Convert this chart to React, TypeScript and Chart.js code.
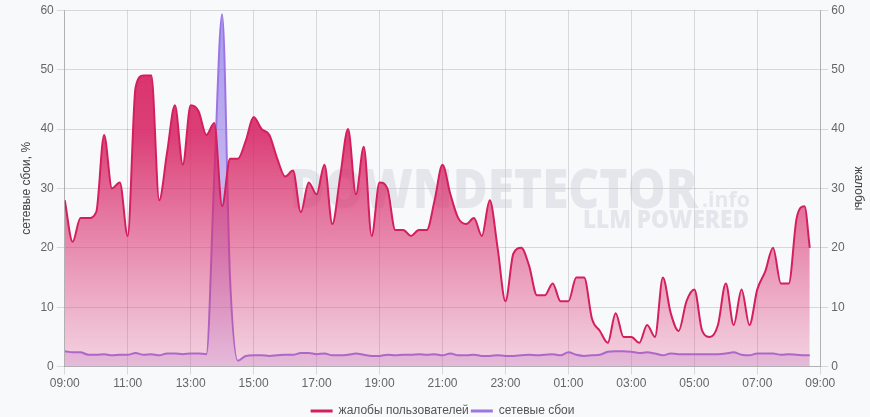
import React, { useEffect, useRef } from "react";
import { Chart, registerables } from "chart.js";

Chart.register(...registerables);

const times: string[] = [
  "09:00","09:15","09:30","09:45","10:00","10:15","10:30","10:45",
  "11:00","11:15","11:30","11:45","12:00","12:15","12:30","12:45",
  "13:00","13:15","13:30","13:45","14:00","14:15","14:30","14:45",
  "15:00","15:15","15:30","15:45","16:00","16:15","16:30","16:45",
  "17:00","17:15","17:30","17:45","18:00","18:15","18:30","18:45",
  "19:00","19:15","19:30","19:45","20:00","20:15","20:30","20:45",
  "21:00","21:15","21:30","21:45","22:00","22:15","22:30","22:45",
  "23:00","23:15","23:30","23:45","00:00","00:15","00:30","00:45",
  "01:00","01:15","01:30","01:45","02:00","02:15","02:30","02:45",
  "03:00","03:15","03:30","03:45","04:00","04:15","04:30","04:45",
  "05:00","05:15","05:30","05:45","06:00","06:15","06:30","06:45",
  "07:00","07:15","07:30","07:45","08:00","08:15","08:30","08:40",
];

const complaints: number[] = [
  28, 21, 25, 25, 26, 39, 30, 31,
  22, 47, 49, 49, 28, 36, 44, 34,
  44, 43, 39, 41, 27, 35, 35, 38,
  42, 40, 39, 35, 32, 33, 26, 31,
  29, 34, 24, 32, 40, 29, 37, 22,
  31, 30, 23, 23, 22, 23, 23, 28,
  34, 29, 25, 24, 25, 22, 28, 20,
  11, 19, 20, 17, 12, 12, 14, 11,
  11, 15, 15, 8, 6, 4, 9, 5,
  5, 4, 7, 5, 15, 9, 6, 11,
  13, 6, 5, 7, 14, 7, 13, 7,
  13, 16, 20, 14, 14, 25, 27, 20,
];

const failures: number[] = [
  2.6, 2.4, 2.4, 2.0, 2.0, 2.1, 1.9, 2.0,
  2.0, 2.3, 2.0, 2.1, 1.9, 2.2, 2.2, 2.1,
  2.2, 2.2, 2.1, 32, 59.3, 15, 1.0, 1.8,
  1.9, 1.9, 1.8, 1.9, 2.0, 2.0, 2.3, 2.3,
  2.1, 2.2, 1.9, 1.9, 2.0, 2.2, 2.0, 1.8,
  1.8, 2.0, 1.9, 2.0, 2.0, 2.1, 2.0, 2.1,
  1.9, 2.2, 1.9, 1.9, 2.0, 1.8, 1.8, 1.9,
  1.8, 1.8, 1.9, 2.0, 1.9, 2.0, 2.1, 1.9,
  2.4, 2.0, 1.8, 1.9, 2.0, 2.5, 2.6, 2.6,
  2.5, 2.3, 2.4, 2.2, 1.9, 2.2, 2.1, 2.1,
  2.1, 2.1, 2.1, 2.1, 2.2, 2.4, 2.0, 1.9,
  2.2, 2.2, 2.2, 2.0, 2.1, 2.0, 1.9, 1.9,
];

const xTickHours: string[] = ["09:00","11:00","13:00","15:00","17:00","19:00","21:00","23:00","01:00","03:00","05:00","07:00","09:00"];

const seriesNames = ["жалобы пользователей", "сетевые сбои"];
const leftTitle = "сетевые сбои, %";
const rightTitle = "жалобы";

const startHour = 9;
function hoursSinceStart(t: string): number {
  const [h, m] = t.split(":").map(Number);
  let v = h + m / 60 - startHour;
  if (v < 0) v += 24;
  return v;
}

const FONT = "'Liberation Sans', Arial, sans-serif";

const watermark = {
  id: "watermark",
  beforeDatasetsDraw(chart: any) {
    const { ctx } = chart;
    ctx.save();
    ctx.fillStyle = "rgba(195,200,210,0.38)";
    ctx.textBaseline = "alphabetic";
    ctx.textAlign = "left";
    ctx.font = "800 54px 'Open Sans', 'DejaVu Sans', sans-serif";
    ctx.fillText("DOWNDETECTOR", 290, 208, 408);
    ctx.font = "700 22px 'Open Sans', 'DejaVu Sans', sans-serif";
    ctx.fillText(".info", 702, 207, 48);
    ctx.font = "800 25px 'Open Sans', 'DejaVu Sans', sans-serif";
    ctx.fillText("LLM POWERED", 583, 228, 166);
    ctx.restore();
  },
};

export default function App() {
  const ref = useRef<HTMLCanvasElement | null>(null);
  useEffect(() => {
    document.body.style.margin = "0";
    document.body.style.background = "#f8f9fb";
    const canvas = ref.current!;
    const xs = times.map(hoursSinceStart);
    const redData = complaints.map((v, i) => ({ x: xs[i], y: v }));
    const blueData = failures.map((v, i) => ({ x: xs[i], y: v }));

    const redFill = (c: any) => {
      const area = c.chart.chartArea;
      if (!area) return "rgba(214,31,95,0.5)";
      const g = c.chart.ctx.createLinearGradient(0, area.top, 0, area.bottom);
      g.addColorStop(0, "rgba(214,31,95,0.97)");
      g.addColorStop(0.35, "rgba(214,31,95,0.85)");
      g.addColorStop(1, "rgba(222,60,120,0.2)");
      return g;
    };
    const blueFill = (c: any) => {
      const area = c.chart.chartArea;
      if (!area) return "rgba(110,95,235,0.5)";
      const g = c.chart.ctx.createLinearGradient(0, area.top, 0, area.bottom);
      g.addColorStop(0, "rgba(110,95,235,0.62)");
      g.addColorStop(0.6, "rgba(140,95,220,0.4)");
      g.addColorStop(1, "rgba(165,100,210,0.2)");
      return g;
    };

    const chart = new Chart(canvas, {
      type: "line",
      data: {
        datasets: [
          {
            label: seriesNames[0],
            data: redData,
            yAxisID: "y1",
            borderColor: "#d41f5d",
            backgroundColor: redFill,
            borderWidth: 2,
            fill: "origin",
            pointRadius: 0,
            cubicInterpolationMode: "monotone",
          },
          {
            label: seriesNames[1],
            data: blueData,
            yAxisID: "y",
            borderColor: "#9e74e2",
            backgroundColor: blueFill,
            borderWidth: 2,
            fill: "origin",
            pointRadius: 0,
            cubicInterpolationMode: "monotone",
          },
        ],
      },
      options: {
        animation: false,
        responsive: false,
        maintainAspectRatio: false,
        layout: { padding: { top: 1, right: 0, left: 15, bottom: 0 } },
        plugins: {
          tooltip: { enabled: false },
          legend: {
            position: "bottom",
            labels: {
              usePointStyle: true,
              pointStyle: "line",
              pointStyleWidth: 22,
              color: "#555",
              padding: 2,
              font: { family: FONT, size: 12 },
              generateLabels: (ch: any) =>
                ch.data.datasets.map((d: any, i: number) => ({
                  text: d.label,
                  strokeStyle: d.borderColor,
                  fillStyle: d.borderColor,
                  lineWidth: 3,
                  pointStyle: "line",
                  hidden: false,
                  datasetIndex: i,
                  fontColor: "#555",
                })),
            },
          },
        },
        scales: {
          x: {
            type: "linear",
            min: 0,
            max: 24,
            afterFit: (s: any) => {
              s.height += 10;
            },
            ticks: {
              stepSize: 2,
              padding: 2,
              color: "#666",
              font: { family: FONT, size: 12 },
              callback: (v: any) => xTickHours[Math.round(Number(v) / 2)] ?? "",
              maxRotation: 0,
            },
            grid: { color: "rgba(0,0,0,0.13)" },
            border: { color: "rgba(0,0,0,0.18)" },
          },
          y: {
            position: "left",
            min: 0,
            max: 60,
            ticks: { stepSize: 10, color: "#666", font: { family: FONT, size: 12 } },
            grid: { color: "rgba(0,0,0,0.13)" },
            border: { color: "rgba(0,0,0,0.18)" },
            title: { display: true, text: leftTitle, color: "#444", font: { family: FONT, size: 12 } },
          },
          y1: {
            position: "right",
            min: 0,
            max: 60,
            ticks: { stepSize: 10, color: "#666", font: { family: FONT, size: 12 } },
            grid: { drawOnChartArea: false, color: "rgba(0,0,0,0.13)" },
            border: { color: "rgba(0,0,0,0.18)" },
            title: { display: true, text: rightTitle, color: "#444", font: { family: FONT, size: 12 } },
          },
        },
      },
      plugins: [watermark],
    } as any);
    return () => chart.destroy();
  }, []);
  return (
    <div style={{ width: 870, height: 417, overflow: "hidden", background: "#f8f9fb" }}>
      <canvas ref={ref} width={870} height={427} style={{ display: "block" }} />
    </div>
  );
}
